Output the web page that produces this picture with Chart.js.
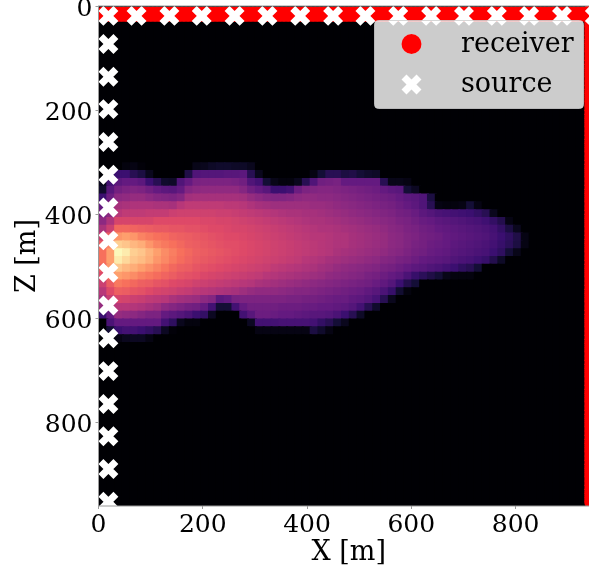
<!DOCTYPE html>
<html>
<head>
<meta charset="utf-8">
<script src="https://cdn.jsdelivr.net/npm/chart.js@4"></script>
<style>
html,body{margin:0;padding:0;background:#fff;overflow:hidden;width:589px;height:571px}
canvas{display:block}
</style>
</head>
<body>
<canvas id="c" width="599" height="571"></canvas>
<script>
// Tick labels, metres
const xTicks = [0, 200, 400, 600, 800];
const zTicks = [0, 200, 400, 600, 800];
const cellSize = 15;     // metres
const gridCount = 64;
const firstRow = 20;

// Amplitude (percent of maximum) per depth row, starting at firstRow, per column from x=0
const row20 = [0,0,0,2,3,1,0,0,0,0,0,0,4,5,7,8,8,7,7,5];
const row21 = [0,15,20,20,15,12,5,0,0,0,0,13,25,26,26,26,27,27,28,15,5,0,0,0,0,0,0,3,10,15,15,12,13,10,8,7];
const row22 = [5,22,28,30,30,28,20,15,8,7,25,30,35,36,36,36,36,35,33,25,22,10,4,2,2,5,15,25,33,34,35,30,30,30,30,30,15,4,4,3];
const row23 = [8,27,34,36,37,36,33,30,28,27,30,38,40,41,41,41,41,41,38,33,30,27,20,20,22,32,36,37,38,38,37,36,35,34,33,32,30,28,27,10,6];
const row24 = [20,32,40,41,42,42,40,38,37,36,38,45,46,46,46,46,46,46,45,42,40,38,37,37,38,40,41,41,40,40,39,38,37,36,35,34,33,32,30,28,27,25,12];
const row25 = [30,37,46,47,48,48,48,47,47,46,50,52,52,52,52,52,51,51,50,48,46,45,44,44,44,44,44,43,43,42,41,40,39,38,37,36,35,34,32,30,28,25,15,3,2,2,3,10,3];
const row26 = [35,40,50,52,52,52,53,53,53,55,56,56,56,56,56,55,55,54,53,52,51,50,49,48,47,47,46,46,45,44,43,42,41,40,39,38,37,36,34,33,31,28,26,24,23,22,21,20,18,15,5];
const row27 = [40,48,58,58,58,58,58,60,60,60,60,60,60,59,59,58,58,57,56,55,54,53,52,51,50,49,48,47,47,46,45,44,43,42,41,40,39,38,36,35,33,31,30,28,27,26,25,24,23,21,18,14,3];
const row28 = [47,55,68,68,67,66,65,64,64,63,63,62,62,61,60,60,59,58,58,57,56,55,54,53,52,51,50,49,48,48,47,46,45,44,43,42,41,39,38,36,35,33,32,30,29,28,27,26,25,24,22,18,12,5];
const row29 = [55,65,78,80,78,74,72,70,69,67,66,65,64,63,62,61,60,60,59,58,57,56,55,54,53,52,51,50,50,49,48,48,46,45,44,43,42,40,39,37,36,34,33,32,30,29,28,27,26,25,23,20,17,13,3];
const row30 = [65,75,90,88,85,83,78,74,72,70,68,66,65,64,63,62,61,61,60,59,58,57,56,55,54,53,52,51,50,49,48,48,46,45,44,43,42,40,39,37,35,34,32,31,30,28,27,26,25,24,22,19,16,12,3];
const row31 = [70,80,99,96,90,88,84,80,76,73,70,68,66,65,64,63,62,61,60,59,58,57,56,55,54,53,52,51,50,49,47,46,45,44,43,42,41,39,38,36,34,33,31,30,29,27,26,25,24,23,20,17,10,4];
const row32 = [70,80,96,92,88,86,83,78,75,72,69,67,65,64,63,62,61,60,59,58,57,56,55,54,53,52,50,49,48,46,45,44,43,42,41,40,38,37,35,34,32,30,29,28,27,25,24,23,21,19,14,7];
const row33 = [65,78,88,85,83,80,77,74,71,68,66,65,63,62,61,60,59,58,57,56,55,54,52,51,50,49,48,47,45,44,42,41,40,39,38,37,35,34,32,30,28,27,25,24,22,20,17,15,10];
const row34 = [60,70,80,78,76,73,71,69,67,65,63,62,61,59,58,57,56,55,54,53,52,50,49,48,47,46,45,44,43,41,40,39,38,37,35,34,32,30,28,24,19,16,13,10,4,2,2,2];
const row35 = [55,65,72,70,68,66,65,63,62,60,59,58,56,55,54,53,52,51,50,49,47,46,45,44,43,42,41,40,39,38,37,36,35,34,33,31,29,26,20,14,10];
const row36 = [50,60,66,65,63,62,60,58,57,56,54,53,51,50,49,48,47,46,44,42,41,41,41,40,39,38,38,37,36,35,34,33,32,31,29,27,24,19,9,2];
const row37 = [46,54,58,57,55,54,52,51,50,47,45,44,43,40,38,28,30,35,36,36,36,36,36,36,35,35,34,34,33,32,31,31,29,28,26,23,15,5];
const row38 = [42,48,50,50,49,48,46,44,40,38,36,34,33,30,22,10,10,22,30,33,33,33,33,32,32,32,31,31,30,30,29,28,26,22,15,8];
const row39 = [20,30,42,41,40,38,36,36,30,28,26,24,20,18,6,0,0,0,22,27,32,32,31,30,30,29,28,27,27,26,24,20,15,7];
const row40 = [0,24,30,30,30,30,30,30,22,17,5,2,2,0,0,0,0,0,0,6,22,22,22,23,23,23,23,22,18,15,10,5];
const row41 = [0,10,20,22,22,20,18,15,6,1,0,0,0,0,0,0,0,0,0,0,3,3,3,3,3,3,3,12,8,3];
const row42 = [0,0,3,5,6,6,3];
const plumeRows = [row20,row21,row22,row23,row24,row25,row26,row27,row28,row29,row30,row31,row32,row33,row34,row35,row36,row37,row38,row39,row40,row41,row42];

// Source positions, metres
const sourceTopX = [19,73,136,198,261,324,387,450,512,575,638,701,764,826,889,952];
const sourceTopZ = 19;
const sourceLeftX = 19;
const sourceLeftZ = [73,136,198,261,324,387,450,512,575,638,701,764,826,889,952];
// Receiver positions, metres
const receiverTopX = [8,16,24,32,40,48,56,64,72,80,88,96,104,112,120,128,136,144,152,160,168,176,184,192,200,208,216,224,232,240,248,256,264,272,280,288,296,304,312,320,328,336,344,352,360,368,376,384,392,400,408,416,424,432,440,448,456,464,472,480,488,496,504,512,520,528,536,544,552,560,568,576,584,592,600,608,616,624,632,640,648,656,664,672,680,688,696,704,712,720,728,736,744,752,760,768,776,784,792,800,808,816,824,832,840,848,856,864,872,880,888,896,904,912,920,928,936,944];
const receiverTopZ = 16;
const receiverRightX = 946;
const receiverRightZ = [8,16,24,32,40,48,56,64,72,80,88,96,104,112,120,128,136,144,152,160,168,176,184,192,200,208,216,224,232,240,248,256,264,272,280,288,296,304,312,320,328,336,344,352,360,368,376,384,392,400,408,416,424,432,440,448,456,464,472,480,488,496,504,512,520,528,536,544,552,560,568,576,584,592,600,608,616,624,632,640,648,656,664,672,680,688,696,704,712,720,728,736,744,752,760,768,776,784,792,800,808,816,824,832,840,848,856,864,872,880,888,896,904,912,920,928,936,944,952];

const magma = [[0,0,4],[20,14,54],[59,15,112],[100,26,128],[140,41,129],[183,55,121],[222,73,104],[247,112,92],[254,159,109],[254,207,146],[252,253,191]];
function magmaColor(p){
  const t = Math.min(Math.max(p/100,0),1)*10, i = Math.min(Math.floor(t),9), f = t-i;
  const a = magma[i], b = magma[i+1];
  return 'rgb('+a.map((v,k)=>Math.round(v+(b[k]-v)*f)).join(',')+')';
}

// Each cell overlaps its right and lower neighbours, which paint over the overlap; the
// shift keeps the visible part of every cell on its own grid square.
const cellShift = 1.9;
const cells = [];
for (let r=0;r<gridCount;r++){
  const row = plumeRows[r-firstRow] || [];
  for (let c=0;c<gridCount;c++){
    cells.push({x:(c+0.5)*cellSize+cellShift, y:(r+0.5)*cellSize+cellShift, v: row[c]||0});
  }
}
const sources = sourceTopX.map(x=>({x,y:sourceTopZ})).concat(sourceLeftZ.map(y=>({x:sourceLeftX,y})));
const receivers = receiverTopX.map(x=>({x,y:receiverTopZ})).concat(receiverRightZ.map(y=>({x:receiverRightX,y})));

const serif = '"DejaVu Serif"';
const frameColor = '#9a9a9a';

const plotBackdrop = {
  id:'plotBackdrop',
  beforeDatasetsDraw(chart){
    const {ctx,chartArea:a} = chart;
    ctx.save(); ctx.fillStyle='#000'; ctx.fillRect(a.left,a.top,a.width,a.height); ctx.restore();
  },
  afterDatasetsDraw(chart){
    const {ctx,chartArea:a} = chart;
    ctx.save(); ctx.strokeStyle=frameColor; ctx.lineWidth=1;
    ctx.strokeRect(a.left,a.top,a.width,a.height); ctx.restore();
  }
};
const legendBox = {
  id:'legendBox',
  afterDatasetsDraw(chart){
    const {ctx} = chart;
    ctx.save();
    ctx.beginPath(); ctx.roundRect(374.5,20.5,209,88,4);
    ctx.fillStyle='rgba(255,255,255,0.8)'; ctx.fill();
    ctx.strokeStyle='rgba(204,204,204,0.8)'; ctx.lineWidth=1; ctx.stroke();
    const sds = chart.data.datasets[0], rds = chart.data.datasets[1];
    Chart.helpers.drawPoint(ctx,{pointStyle:'circle',radius:10,borderWidth:0},411.5,44);
    ctx.fillStyle='#ff0000'; ctx.fill();
    ctx.strokeStyle='#fff'; ctx.lineWidth=7;
    Chart.helpers.drawPoint(ctx,{pointStyle:'crossRot',radius:10.6,borderWidth:7},411.5,84.5);
    ctx.fillStyle='#000'; ctx.font='27px '+serif; ctx.textAlign='left'; ctx.textBaseline='alphabetic';
    ctx.fillText(rds.label,461,52);
    ctx.fillText(sds.label,461,92);
    ctx.restore();
  }
};

new Chart(document.getElementById('c'),{
  type:'scatter',
  data:{datasets:[
    {label:'source',data:sources,pointStyle:'crossRot',pointRadius:10.6,pointBorderWidth:7,pointBorderColor:'#fff',pointBackgroundColor:'#fff',clip:0},
    {label:'receiver',data:receivers,pointStyle:'circle',pointRadius:7.5,pointBorderWidth:0,pointBackgroundColor:'#ff0000',clip:0},
    {label:'amplitude',data:cells,pointStyle:'rect',pointRadius:6.9,pointBorderWidth:0,
      pointBackgroundColor:ctx=>magmaColor(ctx.raw?ctx.raw.v:0),clip:0}
  ]},
  options:{
    responsive:false,animation:false,
    events:[],
    layout:{autoPadding:false,padding:{top:6,right:0,bottom:0,left:0}},
    plugins:{legend:{display:false},tooltip:{enabled:false}},
    scales:{
      x:{type:'linear',position:'bottom',min:0,max:960,
        afterBuildTicks:s=>{s.ticks=xTicks.map(v=>({value:v}));},
        afterFit:s=>{s.height=65;s.paddingLeft=0;s.paddingRight=0;},
        grid:{display:true,drawOnChartArea:false,drawTicks:true,tickLength:3,tickColor:frameColor,tickWidth:1},
        border:{display:false},
        ticks:{color:'#000',padding:1,maxRotation:0,font:{family:serif,size:25}},
        title:{display:true,text:'X [m]',color:'#000',padding:{top:0,bottom:2},font:{family:serif,size:27}}
      },
      y:{type:'linear',reverse:true,min:0,max:960,
        afterBuildTicks:s=>{s.ticks=zTicks.map(v=>({value:v}));},
        afterFit:s=>{s.width=98.5;s.paddingTop=0;s.paddingBottom=0;},
        grid:{display:true,drawOnChartArea:false,drawTicks:true,tickLength:3,tickColor:frameColor,tickWidth:1},
        border:{display:false},
        ticks:{color:'#000',padding:3,labelOffset:3,font:{family:serif,size:25}},
        title:{display:true,text:'Z [m]',color:'#000',padding:{top:12,bottom:0},font:{family:serif,size:27}}
      }
    }
  },
  plugins:[plotBackdrop,legendBox]
});
</script>
</body>
</html>
